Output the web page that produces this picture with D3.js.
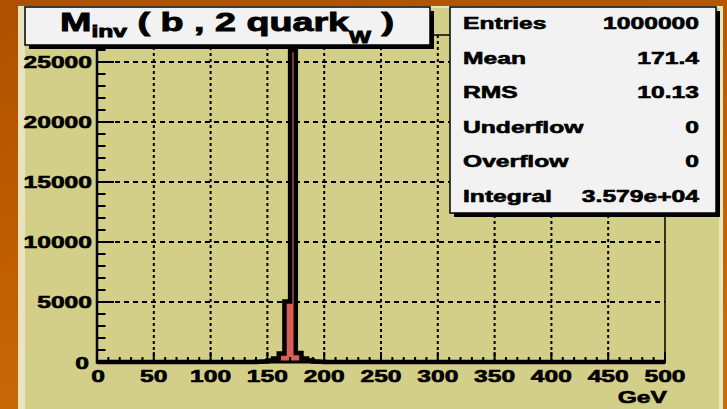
<!DOCTYPE html>
<html>
<head>
<meta charset="utf-8">
<script src="https://cdnjs.cloudflare.com/ajax/libs/d3/7.8.5/d3.min.js"></script>
<style>
  html, body { margin: 0; padding: 0; background: #b85a00; }
  svg { display: block; }
  text { font-family: "Liberation Sans", Arial, sans-serif; font-weight: bold; fill: #000;
         stroke: #000; stroke-width: 0.6px; }
</style>
</head>
<body>
<div id="chart"></div>
<script>
var W = 727, H = 409;
var SX = 1.45; // text in the picture is stretched sideways

// histogram: 5 GeV bins, only non-empty bins listed
var binLow = [140, 145, 150, 155, 160, 165, 170, 175, 180, 185, 190, 195];
var counts = [20, 50, 120, 300, 700, 5050, 26000, 750, 300, 130, 50, 25];
var binWidth = 5;

var xTicks = [0, 50, 100, 150, 200, 250, 300, 350, 400, 450, 500];
var yTicks = [0, 5000, 10000, 15000, 20000, 25000];

var statLabels = ["Entries", "Mean", "RMS", "Underflow", "Overflow", "Integral"];
var statValues = ["1000000", "171.4", "10.13", "0", "0", "3.579e+04"];

var frame = {left: 97, right: 665, top: 35, bottom: 362};

var x = d3.scaleLinear().domain([0, 500]).range([frame.left, frame.right]);
var y = d3.scaleLinear().domain([0, 27250]).range([frame.bottom, frame.top]);

var svg = d3.select("#chart").append("svg")
    .attr("width", W)
    .attr("height", H);

var defs = svg.append("defs");
var grad = defs.append("linearGradient")
    .attr("id", "bg")
    .attr("x1", 0).attr("y1", 0).attr("x2", 0.3).attr("y2", 1);
grad.append("stop").attr("offset", "0%").attr("stop-color", "#ad5000");
grad.append("stop").attr("offset", "60%").attr("stop-color", "#c05e00");
grad.append("stop").attr("offset", "100%").attr("stop-color", "#c86a08");

// outer background
svg.append("rect").attr("width", W).attr("height", H).attr("fill", "url(#bg)");

// pad
svg.append("rect")
    .attr("x", 18).attr("y", 6).attr("width", 705).attr("height", H - 6)
    .attr("fill", "#e9e4bf");
svg.append("rect")
    .attr("x", 25).attr("y", 8).attr("width", 694).attr("height", H - 8)
    .attr("fill", "#d4cf88");

// grid
var grid = svg.append("g")
    .attr("stroke", "#000")
    .attr("stroke-width", 2);
grid.selectAll(".gx")
    .data(xTicks.slice(1, -1))
    .enter().append("line")
    .attr("x1", d => x(d)).attr("x2", d => x(d))
    .attr("y1", frame.bottom).attr("y2", frame.top)
    .attr("stroke-dasharray", "3,3");
grid.selectAll(".gy")
    .data(yTicks.slice(1))
    .enter().append("line")
    .attr("x1", frame.left).attr("x2", frame.right)
    .attr("y1", d => y(d)).attr("y2", d => y(d))
    .attr("stroke-dasharray", "5,4");

// histogram outline as steps, across the whole range
var nBins = 500 / binWidth;
var pts = [[x(0), y(0)]];
for (var i = 0; i < nBins; i++) {
    var lo = i * binWidth;
    var k = binLow.indexOf(lo);
    var v = k >= 0 ? counts[k] : 0;
    pts.push([x(lo), y(v)]);
    pts.push([x(lo + binWidth), y(v)]);
}
pts.push([x(500), y(0)]);

svg.append("path")
    .attr("d", d3.line()(pts))
    .attr("fill", "#d85f58")
    .attr("stroke", "#000")
    .attr("stroke-width", 4.5)
    .attr("stroke-linejoin", "miter");

// frame
svg.append("path")
    .attr("d", "M" + frame.left + "," + frame.top + "H" + frame.right + "V" + frame.bottom)
    .attr("fill", "none")
    .attr("stroke", "#000")
    .attr("stroke-width", 1.5);
svg.append("line")
    .attr("x1", frame.left).attr("x2", frame.left)
    .attr("y1", frame.top).attr("y2", frame.bottom + 1.5)
    .attr("stroke", "#000").attr("stroke-width", 2.5);
svg.append("line")
    .attr("x1", frame.left - 1).attr("x2", frame.right + 1)
    .attr("y1", frame.bottom).attr("y2", frame.bottom)
    .attr("stroke", "#000").attr("stroke-width", 3);

// ticks
var ticks = svg.append("g").attr("stroke", "#000").attr("stroke-width", 2);
ticks.selectAll(".ym")
    .data(d3.range(0, 27250, 1000))
    .enter().append("line")
    .attr("x1", frame.left).attr("x2", d => frame.left + (d % 5000 === 0 ? 17 : 8.5))
    .attr("y1", d => y(d)).attr("y2", d => y(d));
ticks.selectAll(".xm")
    .data(d3.range(0, 501, 10))
    .enter().append("line")
    .attr("x1", d => x(d)).attr("x2", d => x(d))
    .attr("y1", frame.bottom).attr("y2", d => frame.bottom - (d % 50 === 0 ? 10 : 5));

// stretched text helper
function label(g, tx, ty, str, size, anchor) {
    return g.append("text")
        .attr("transform", "translate(" + tx + "," + ty + ") scale(" + SX + ",1)")
        .attr("text-anchor", anchor || "start")
        .attr("font-size", size)
        .text(str);
}

var labels = svg.append("g");
yTicks.forEach(function (d) {
    if (d === 0) label(labels, 89, 369, "0", 17, "end");
    else label(labels, 92, y(d) + 6, String(d), 17, "end");
});
xTicks.forEach(function (d) {
    label(labels, x(d) + (d === 0 ? 1 : 0), 382, String(d), 17, "middle");
});
label(labels, 667, 403, "GeV", 17, "end");

// title box
function box(bx, by, bw, bh) {
    svg.append("rect")
        .attr("x", bx + 4).attr("y", by + 4).attr("width", bw).attr("height", bh)
        .attr("fill", "#000");
    svg.append("rect")
        .attr("x", bx).attr("y", by).attr("width", bw).attr("height", bh)
        .attr("fill", "#f2f2f2").attr("stroke", "#000").attr("stroke-width", 1.5);
}
box(25, 7, 405, 38);

var title = svg.append("text")
    .attr("transform", "translate(227,31) scale(" + SX + ",1)")
    .attr("text-anchor", "middle")
    .attr("font-size", 26)
    .style("stroke-width", "0.9px");
title.append("tspan").text("M");
title.append("tspan").attr("font-size", 17).attr("dy", 6).text("inv");
title.append("tspan").attr("dy", -6).text("\u00a0( b , 2 quark");
title.append("tspan").attr("font-size", 16).attr("dy", 12).text("W");
title.append("tspan").attr("dy", -12).text("\u00a0)");

// stats box
box(450, 7, 266, 206);
var stats = svg.append("g");
statLabels.forEach(function (s, i) {
    var by = 29 + i * 34.6;
    label(stats, 463, by, s, 17, "start");
    label(stats, 699, by, statValues[i], 17, "end");
});
</script>
</body>
</html>
